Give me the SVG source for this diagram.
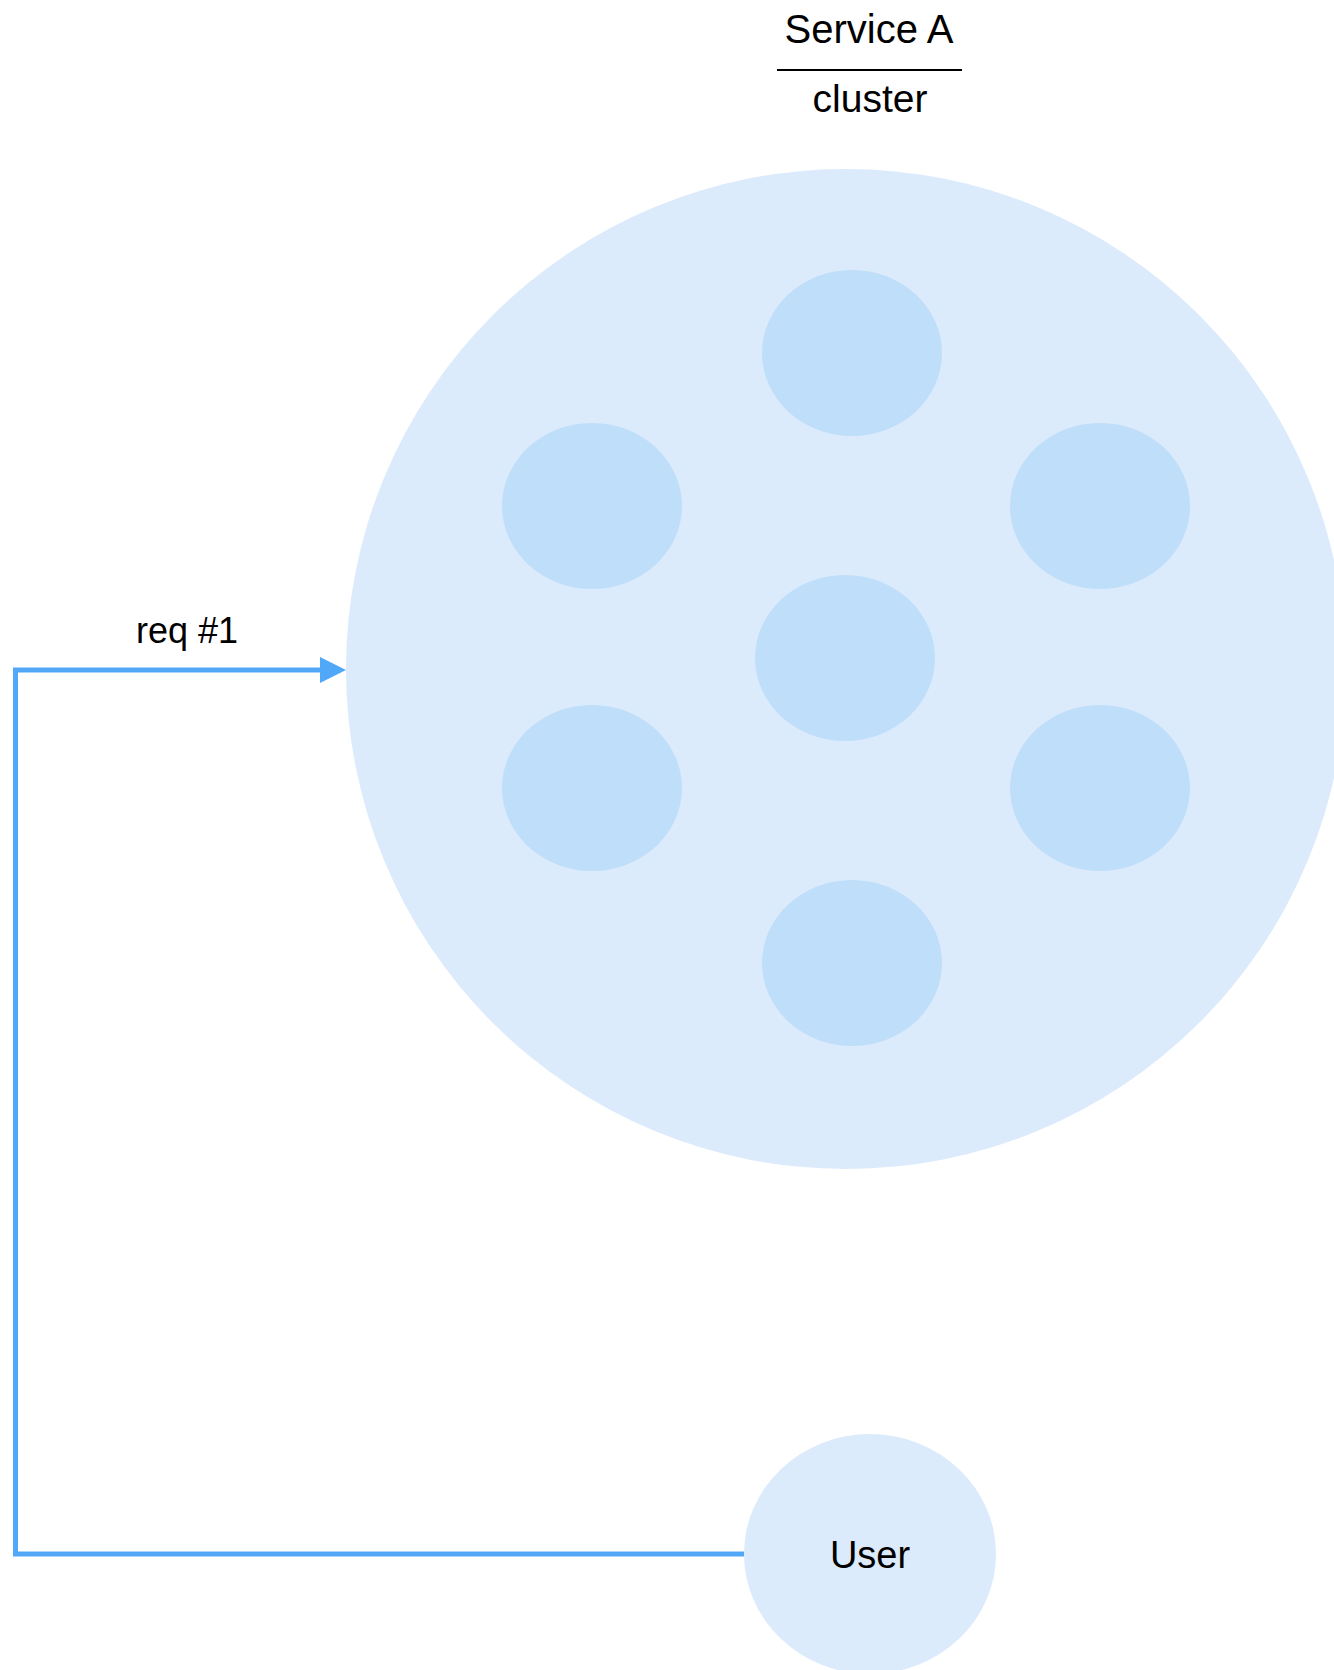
<svg xmlns="http://www.w3.org/2000/svg" width="1334" height="1670" viewBox="0 0 1334 1670">
<style>
.lbl{font-family:"Liberation Sans",Arial,sans-serif;fill:#000;text-anchor:middle}
.big{fill:#DCEBFC}
.pod{fill:#BFDEFA}
.conn{fill:none;stroke:#52A8F8;stroke-width:5}
</style>
<defs>
<marker id="arrow" markerUnits="userSpaceOnUse" markerWidth="28" markerHeight="26" refX="2" refY="13" orient="auto">
<path d="M0,0 L26,13 L0,26 Z" fill="#52A8F8"/>
</marker>
</defs>
<rect width="1334" height="1670" fill="#fff"/>
<g id="title">
<text class="lbl" x="869" y="43" font-size="40">Service A</text>
<line x1="777" y1="70" x2="962" y2="70" stroke="#000" stroke-width="2"/>
<text class="lbl" x="870" y="112" font-size="39">cluster</text>
</g>
<g id="cluster">
<circle class="big" cx="846" cy="669" r="500"/>
<g id="pod-top"><ellipse class="pod" cx="852" cy="353" rx="90" ry="83"/></g>
<g id="pod-left-upper"><ellipse class="pod" cx="592" cy="506" rx="90" ry="83"/></g>
<g id="pod-right-upper"><ellipse class="pod" cx="1100" cy="506" rx="90" ry="83"/></g>
<g id="pod-center"><ellipse class="pod" cx="845" cy="658" rx="90" ry="83"/></g>
<g id="pod-left-lower"><ellipse class="pod" cx="592" cy="788" rx="90" ry="83"/></g>
<g id="pod-right-lower"><ellipse class="pod" cx="1100" cy="788" rx="90" ry="83"/></g>
<g id="pod-bottom"><ellipse class="pod" cx="852" cy="963" rx="90" ry="83"/></g>
</g>
<g id="user">
<ellipse class="big" cx="870" cy="1554" rx="126" ry="120"/>
<text class="lbl" x="870" y="1568" font-size="38">User</text>
</g>
<g id="connectors">
<polyline class="conn" points="744,1554 15.5,1554 15.5,670 322,670" marker-end="url(#arrow)"/>
<text class="lbl" x="187" y="643" font-size="36">req #1</text>
</g>
</svg>
